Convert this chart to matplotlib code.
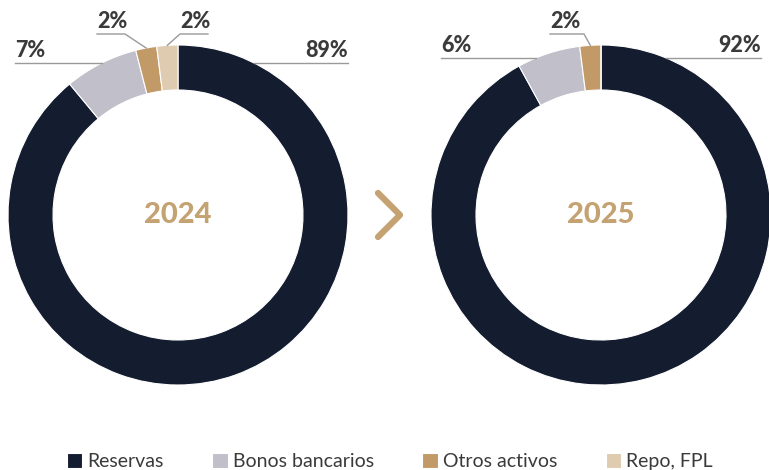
import numpy as np
import matplotlib
matplotlib.use("Agg")
import matplotlib.pyplot as plt

categories = ["Reservas", "Bonos bancarios", "Otros activos", "Repo, FPL"]
years = ["2024", "2025"]
shares_2024 = [89, 7, 2, 2]
shares_2025 = [92, 6, 2, 0]
colors = ["#141c2f", "#c0bfca", "#c19a68", "#dfcbb0"]

plt.rcParams["font.family"] = ["Lato", "DejaVu Sans"]
text_col = "#3a3a3a"
line_col = "#9a9a9a"
gold = "#c4a271"

W, H = 769, 470
fig = plt.figure(figsize=(W / 100, H / 100), dpi=100)
ax = fig.add_axes([0, 0, 1, 1])

R, width = 170, 45
centers = [(178, 255), (601, 255)]


def edge(c, ang):
    a = np.radians(ang)
    return c[0] + R * np.cos(a), c[1] + R * np.sin(a)


def hline_label(c, y, x_end, txt, side):
    dy = y - c[1]
    dx = np.sqrt(R ** 2 - dy ** 2)
    x0 = c[0] + dx if side == "right" else c[0] - dx
    ax.plot([x0, x_end], [y, y], color=line_col, lw=1)
    ha = "right" if side == "right" else "left"
    ax.text(x_end, y + 2, txt, ha=ha, va="bottom", fontsize=15.5,
            fontweight=900, color=text_col)


def elbow_label(c, ang, elbow, x_end, txt):
    x0, y0 = edge(c, ang)
    ax.plot([x0, elbow[0], x_end], [y0, elbow[1], elbow[1]],
            color=line_col, lw=1)
    ax.text(min(elbow[0], x_end), elbow[1] + 2, txt, ha="left", va="bottom",
            fontsize=15.5, fontweight=900, color=text_col)


wedges_all = []
for c, vals, yr in zip(centers, [shares_2024, shares_2025], years):
    wedges, _ = ax.pie(vals, colors=colors, startangle=90, counterclock=False,
                       radius=R, center=c,
                       wedgeprops=dict(width=width, edgecolor="white", linewidth=0.8))
    wedges_all.append(wedges)
    ax.text(c[0], c[1], yr, ha="center", va="center", fontsize=21,
            fontweight=900, color=gold)

# labels 2024
c = centers[0]
mids = [(w.theta1 + w.theta2) / 2 for w in wedges_all[0]]
hline_label(c, 407, 348, f"{shares_2024[0]}%", "right")
hline_label(c, 407, 15, f"{shares_2024[1]}%", "left")
elbow_label(c, mids[2], (125, 436), 97, f"{shares_2024[2]}%")
elbow_label(c, mids[3], (180, 436), 208, f"{shares_2024[3]}%")

# labels 2025
c = centers[1]
mids = [(w.theta1 + w.theta2) / 2 for w in wedges_all[1]]
hline_label(c, 412, 761, f"{shares_2025[0]}%", "right")
hline_label(c, 412, 441, f"{shares_2025[1]}%", "left")
elbow_label(c, mids[2], (584, 436), 550, f"{shares_2025[2]}%")

# chevron
ax.plot([378, 400, 378], [277, 255, 233], color=gold, lw=4.5,
        solid_capstyle="round", solid_joinstyle="round")

leg = ax.legend(wedges_all[0], categories, loc="lower center",
                bbox_to_anchor=(0.507, -0.037), ncol=4, frameon=False,
                fontsize=14, handlelength=0.8, handleheight=0.8,
                handletextpad=0.25, columnspacing=2.5)
for t in leg.get_texts():
    t.set_color(text_col)

ax.set_xlim(0, W)
ax.set_ylim(0, H)
ax.set_aspect("equal")
ax.axis("off")

fig.savefig("out.png", dpi=100)
